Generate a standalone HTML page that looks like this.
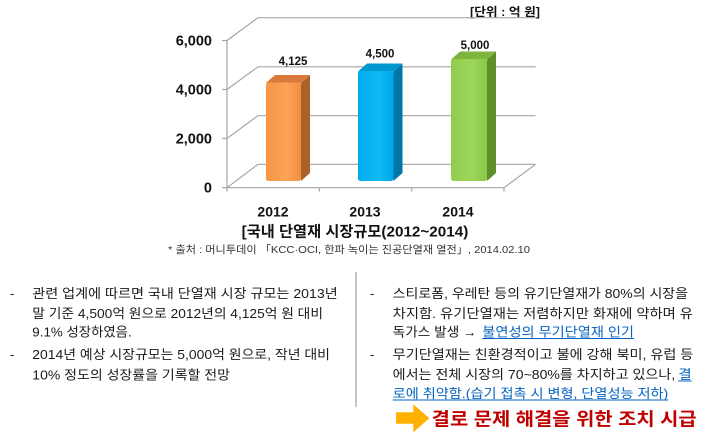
<!DOCTYPE html>
<html><head><meta charset="utf-8"><style>
html,body{margin:0;padding:0;background:#fff;}
svg{display:block;}
.ax{font-family:"Liberation Sans","Noto Sans CJK KR",sans-serif;font-weight:bold;fill:#111;}
.kr{font-family:"Liberation Sans","Noto Sans CJK KR",sans-serif;fill:#1a1a1a;}
.krb{font-family:"Liberation Sans","Noto Sans CJK KR",sans-serif;font-weight:bold;fill:#111;}
.lnk{font-family:"Liberation Sans","Noto Sans CJK KR",sans-serif;fill:#0563C1;}
</style></head><body>
<svg width="705" height="438" viewBox="0 0 705 438" xmlns="http://www.w3.org/2000/svg">
<defs>
<linearGradient id="go" x1="0" x2="1" y1="0" y2="0"><stop offset="0" stop-color="#F79646"/><stop offset="0.6" stop-color="#FBA458"/><stop offset="1" stop-color="#F28E3C"/></linearGradient>
<linearGradient id="gb" x1="0" x2="1" y1="0" y2="0"><stop offset="0" stop-color="#00ACEC"/><stop offset="0.6" stop-color="#10BAF5"/><stop offset="1" stop-color="#00A6E6"/></linearGradient>
<linearGradient id="gg" x1="0" x2="1" y1="0" y2="0"><stop offset="0" stop-color="#8FCD4C"/><stop offset="0.6" stop-color="#9CD65A"/><stop offset="1" stop-color="#8AC846"/></linearGradient>
</defs>
<!-- unit -->
<text class="krb" x="470" y="16" font-size="12" textLength="70" lengthAdjust="spacingAndGlyphs">[단위 : 억 원]</text>
<!-- grid -->
<g stroke="#A6A6A6" stroke-width="1.2" fill="none">
<line x1="258" y1="17.7" x2="535.6" y2="17.7"/>
<line x1="258" y1="66.8" x2="535.6" y2="66.8"/>
<line x1="258" y1="115.7" x2="535.6" y2="115.7"/>
<line x1="258" y1="164.3" x2="535.6" y2="164.3"/>
<line x1="227" y1="40.5" x2="258" y2="17.7"/>
<line x1="227" y1="89.5" x2="258" y2="66.8"/>
<line x1="227" y1="138.5" x2="258" y2="115.7"/>
<line x1="227" y1="187.7" x2="258" y2="164.3"/>
<line x1="227" y1="40.5" x2="227" y2="187.7"/>
<line x1="227" y1="187.7" x2="504" y2="187.7"/>
<line x1="504" y1="187.7" x2="535.6" y2="164.3"/>
<line x1="222" y1="40.5" x2="227" y2="40.5"/>
<line x1="222" y1="89.5" x2="227" y2="89.5"/>
<line x1="222" y1="138.5" x2="227" y2="138.5"/>
<line x1="222" y1="187.7" x2="227" y2="187.7"/>
<line x1="227" y1="187.7" x2="227" y2="191.5"/>
<line x1="319.3" y1="187.7" x2="319.3" y2="191.5"/>
<line x1="411.7" y1="187.7" x2="411.7" y2="191.5"/>
<line x1="504" y1="187.7" x2="504" y2="191.5"/>
</g>
<!-- y labels -->
<text class="ax" x="212" y="45.5" font-size="14.5" text-anchor="end">6,000</text>
<text class="ax" x="212" y="94.5" font-size="14.5" text-anchor="end">4,000</text>
<text class="ax" x="212" y="143.5" font-size="14.5" text-anchor="end">2,000</text>
<text class="ax" x="212" y="192.7" font-size="14.5" text-anchor="end">0</text>
<!-- bars -->
<g>
<polygon points="301,83 310,75 310,173 301,181" fill="#A9622B"/>
<polygon points="266,83 275,75 310,75 301,83" fill="#D9793A"/>
<rect x="266" y="82.5" width="35" height="98.5" rx="2.5" fill="url(#go)"/>
<polygon points="393.5,71.5 402.5,63.5 402.5,173 393.5,181" fill="#0077A8"/>
<polygon points="358,71.5 367,63.5 402.5,63.5 393.5,71.5" fill="#0096CF"/>
<rect x="358" y="71" width="35.5" height="110" rx="2.5" fill="url(#gb)"/>
<polygon points="487,59.5 496,51.5 496,173 487,181" fill="#5F8F2C"/>
<polygon points="451,59.5 460,51.5 496,51.5 487,59.5" fill="#7DB53E"/>
<rect x="451" y="59" width="36" height="122" rx="2.5" fill="url(#gg)"/>
</g>
<!-- data labels -->
<text class="ax" x="293" y="64.8" font-size="11.5" text-anchor="middle">4,125</text>
<text class="ax" x="380" y="57.3" font-size="11.5" text-anchor="middle">4,500</text>
<text class="ax" x="475" y="49" font-size="11.5" text-anchor="middle">5,000</text>
<!-- x labels -->
<text class="ax" x="273" y="216.5" font-size="14" text-anchor="middle">2012</text>
<text class="ax" x="365" y="216.5" font-size="14" text-anchor="middle">2013</text>
<text class="ax" x="458" y="216.5" font-size="14" text-anchor="middle">2014</text>
<!-- title -->
<text class="krb" x="241.7" y="236.5" font-size="15" textLength="226.6" lengthAdjust="spacingAndGlyphs">[국내 단열재 시장규모(2012~2014)</text>
<text class="kr" x="168" y="253" font-size="10.5" fill="#333" style="fill:#333" textLength="362" lengthAdjust="spacingAndGlyphs">* 출처 : 머니투데이 「KCC·OCI, 한파 녹이는 진공단열재 열전」, 2014.02.10</text>
<!-- divider -->
<line x1="356" y1="272" x2="356" y2="407" stroke="#B0B0B0" stroke-width="1.5"/>
<!-- left column -->
<text class="kr" x="10" y="298" font-size="13">-</text>
<text class="kr" x="32.3" y="298" font-size="13" textLength="305.4" lengthAdjust="spacingAndGlyphs">관련 업계에 따르면 국내 단열재 시장 규모는 2013년</text>
<text class="kr" x="32.3" y="318" font-size="13" textLength="290.7" lengthAdjust="spacingAndGlyphs">말 기준 4,500억 원으로 2012년의 4,125억 원 대비</text>
<text class="kr" x="32.3" y="336.5" font-size="13" textLength="99.4" lengthAdjust="spacingAndGlyphs">9.1% 성장하였음.</text>
<text class="kr" x="10" y="359" font-size="13">-</text>
<text class="kr" x="32.3" y="359" font-size="13" textLength="297.7" lengthAdjust="spacingAndGlyphs">2014년 예상 시장규모는 5,000억 원으로, 작년 대비</text>
<text class="kr" x="32.3" y="379.5" font-size="13" textLength="197.7" lengthAdjust="spacingAndGlyphs">10% 정도의 성장률을 기록할 전망</text>
<!-- right column -->
<text class="kr" x="370" y="298" font-size="13">-</text>
<text class="kr" x="392.7" y="298" font-size="13" textLength="295.3" lengthAdjust="spacingAndGlyphs">스티로폼, 우레탄 등의 유기단열재가 80%의 시장을</text>
<text class="kr" x="392.7" y="318" font-size="13" textLength="300.3" lengthAdjust="spacingAndGlyphs">차지함. 유기단열재는 저렴하지만 화재에 약하며 유</text>
<text class="kr" x="392.7" y="336.5" font-size="13" textLength="84" lengthAdjust="spacingAndGlyphs">독가스 발생 →</text>
<text class="lnk" x="482.3" y="336.5" font-size="13" textLength="151.7" lengthAdjust="spacingAndGlyphs">불연성의 무기단열재 인기</text>
<line x1="482.3" y1="338.5" x2="634" y2="338.5" stroke="#0563C1" stroke-width="1"/>
<text class="kr" x="370" y="359" font-size="13">-</text>
<text class="kr" x="392.7" y="359" font-size="13" textLength="300.6" lengthAdjust="spacingAndGlyphs">무기단열재는 친환경적이고 불에 강해 북미, 유럽 등</text>
<text class="kr" x="392.7" y="379" font-size="13" textLength="282.5" lengthAdjust="spacingAndGlyphs">에서는 전체 시장의 70~80%를 차지하고 있으나,</text>
<text class="lnk" x="678.3" y="379" font-size="13" textLength="13.4" lengthAdjust="spacingAndGlyphs">결</text>
<line x1="678.3" y1="381" x2="691.7" y2="381" stroke="#0563C1" stroke-width="1"/>
<text class="lnk" x="392.7" y="398" font-size="13" textLength="275.6" lengthAdjust="spacingAndGlyphs">로에 취약함.(습기 접촉 시 변형, 단열성능 저하)</text>
<line x1="392.7" y1="400" x2="668.3" y2="400" stroke="#0563C1" stroke-width="1"/>
<!-- arrow -->
<polygon points="396,412.3 413.3,412.3 413.3,404.3 429.3,418.3 413.3,432.3 413.3,423.8 396,423.8" fill="#FFB000"/>
<text x="431.7" y="425.5" font-size="18" font-weight="bold" fill="#C00000" font-family="Liberation Sans, Noto Sans CJK KR, sans-serif" textLength="265" lengthAdjust="spacingAndGlyphs">결로 문제 해결을 위한 조치 시급</text>
</svg>
</body></html>
